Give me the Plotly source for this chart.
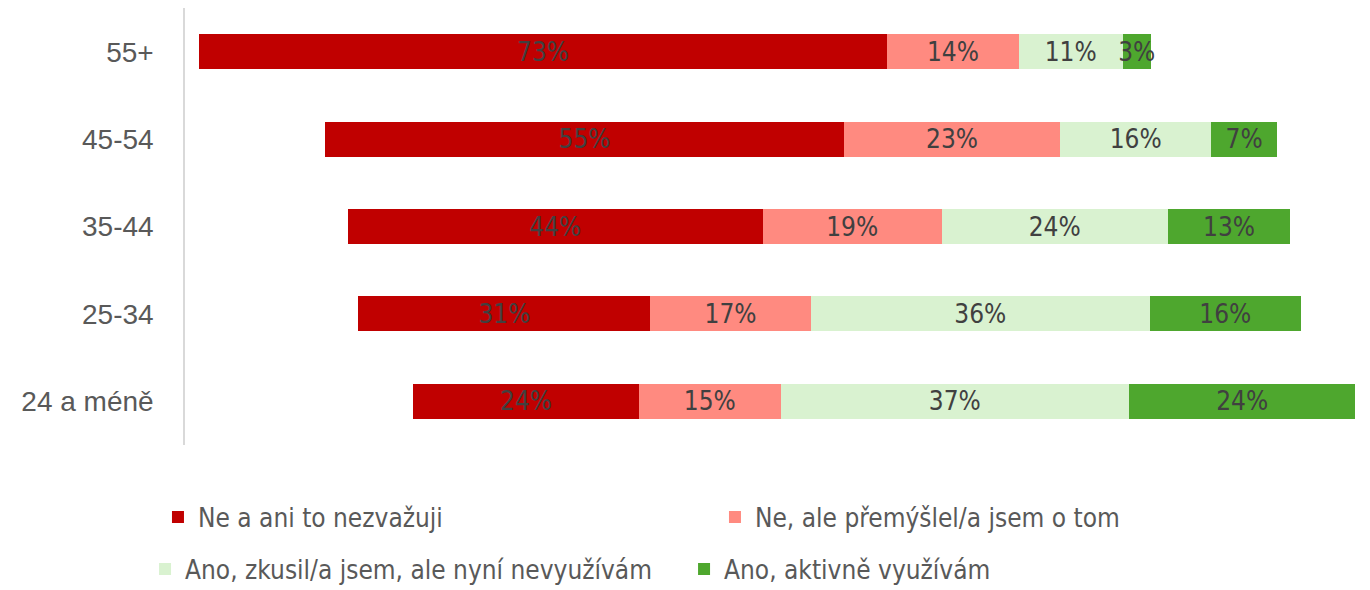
import plotly.graph_objects as go

categories = ["55+", "45-54", "35-44", "25-34", "24 a méně"]
offset = [1.5, 14.9, 17.3, 18.4, 24.2]
ne_nezvazuji = [73, 55, 44, 31, 24]
ne_premyslel = [14, 23, 19, 17, 15]
ano_zkusil = [11, 16, 24, 36, 37]
ano_aktivne = [3, 7, 13, 16, 24]

series = [
    ("Ne a ani to nezvažuji", ne_nezvazuji, "#C00000", "legend"),
    ("Ne, ale přemýšlel/a jsem o tom", ne_premyslel, "#FF8A80", "legend"),
    ("Ano, zkusil/a jsem, ale nyní nevyužívám", ano_zkusil, "#D9F2D0", "legend2"),
    ("Ano, aktivně využívám", ano_aktivne, "#4EA72E", "legend2"),
]

COND = "DejaVu Sans Condensed, Liberation Sans Narrow, Arial Narrow, sans-serif"

fig = go.Figure()
fig.add_trace(go.Bar(y=categories, x=offset, orientation="h",
                     marker=dict(color="rgba(0,0,0,0)", line=dict(width=0)),
                     showlegend=False, hoverinfo="skip"))
for name, vals, col, lg in series:
    fig.add_trace(go.Bar(
        y=categories, x=vals, orientation="h", name=name, legend=lg,
        marker=dict(color=col, line=dict(width=0)),
        text=[f"{v}%" for v in vals], textposition="inside", textangle=0,
        insidetextanchor="middle", constraintext="none",
        textfont=dict(color="#404040", size=26, family=COND),
    ))

fig.update_layout(
    barmode="stack", bargap=0.6,
    width=1370, height=590,
    margin=dict(l=185, r=10, t=8, b=145, autoexpand=False),
    plot_bgcolor="white", paper_bgcolor="white",
    font=dict(family=COND, color="#595959"),
    xaxis=dict(range=[0, 124.7], visible=False),
    yaxis=dict(categoryorder="array", categoryarray=categories[::-1],
               showline=True, linecolor="#D9D9D9", linewidth=1.5,
               showgrid=False, ticks="", ticklabelstandoff=24, automargin=False,
               tickfont=dict(size=28, family="Liberation Sans, Arial, sans-serif", color="#595959")),
    legend=dict(orientation="h", x=-0.023, xanchor="left", y=-0.165, yanchor="middle",
                entrywidth=512, traceorder="normal",
                font=dict(size=26, color="#595959", family=COND), itemwidth=30),
    legend2=dict(orientation="h", x=-0.034, xanchor="left", y=-0.284, yanchor="middle",
                 entrywidth=494, traceorder="normal",
                 font=dict(size=26, color="#595959", family=COND), itemwidth=30),
    showlegend=True,
)

fig.write_html("out.html", config={"displayModeBar": False},
               post_script="document.body.style.margin='0';document.body.style.overflow='hidden';")
